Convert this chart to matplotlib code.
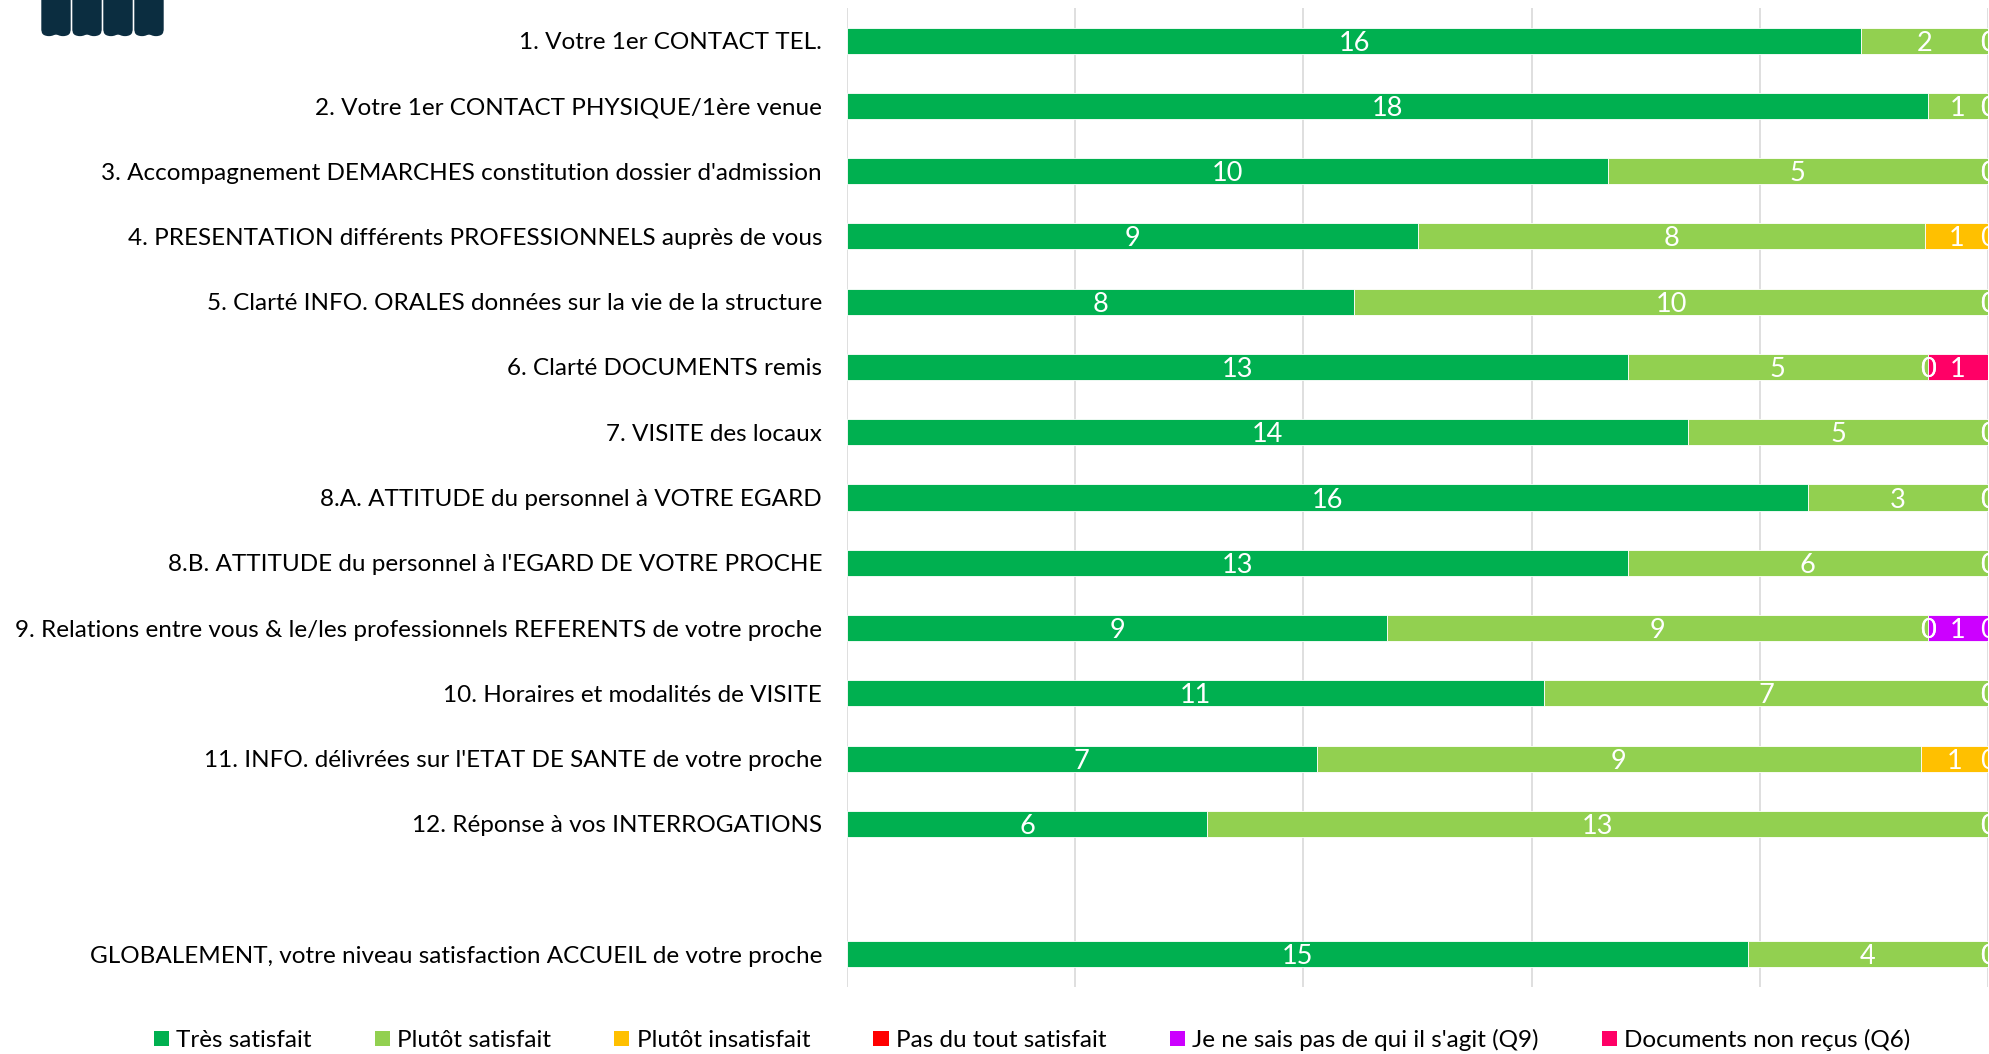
import numpy as np
import matplotlib
matplotlib.use("Agg")
import matplotlib.pyplot as plt
from matplotlib.patches import FancyBboxPatch, Circle

plt.rcParams['font.family'] = ['Lato', 'DejaVu Sans']

questions = [
    "1. Votre 1er CONTACT TEL.",
    "2. Votre 1er CONTACT PHYSIQUE/1ère venue",
    "3. Accompagnement DEMARCHES constitution dossier d'admission",
    "4. PRESENTATION différents PROFESSIONNELS auprès de vous",
    "5. Clarté INFO. ORALES données sur la vie de la structure",
    "6. Clarté DOCUMENTS remis",
    "7. VISITE des locaux",
    "8.A. ATTITUDE du personnel à VOTRE EGARD",
    "8.B. ATTITUDE du personnel à l'EGARD DE VOTRE PROCHE",
    "9. Relations entre vous & le/les professionnels REFERENTS de votre proche",
    "10. Horaires et modalités de VISITE",
    "11. INFO. délivrées sur l'ETAT DE SANTE de votre proche",
    "12. Réponse à vos INTERROGATIONS",
    "",
    "GLOBALEMENT, votre niveau satisfaction ACCUEIL de votre proche",
]

series_names = ["Très satisfait", "Plutôt satisfait", "Plutôt insatisfait",
                "Pas du tout satisfait", "Je ne sais pas de qui il s'agit (Q9)",
                "Documents non reçus (Q6)"]
colors = ["#00B050", "#92D050", "#FFC000", "#FF0000", "#CC00FF", "#FF0066"]

nan = np.nan
tres_satisfait = [16, 18, 10, 9, 8, 13, 14, 16, 13, 9, 11, 7, 6, nan, 15]
plutot_satisfait = [2, 1, 5, 8, 10, 5, 5, 3, 6, 9, 7, 9, 13, nan, 4]
plutot_insatisfait = [0, 0, 0, 1, 0, 0, 0, 0, 0, 0, 0, 1, 0, nan, 0]
pas_du_tout = [0, 0, 0, 0, 0, 0, 0, 0, 0, 0, 0, 0, 0, nan, 0]
ne_sais_pas = [nan, nan, nan, nan, nan, nan, nan, nan, nan, 1, nan, nan, nan, nan, nan]
docs_non_recus = [nan, nan, nan, nan, nan, 1, nan, nan, nan, 0, nan, nan, nan, nan, nan]

data = np.array([tres_satisfait, plutot_satisfait, plutot_insatisfait,
                 pas_du_tout, ne_sais_pas, docs_non_recus], dtype=float)

W, H = 1989, 1054
fig = plt.figure(figsize=(W / 100, H / 100), dpi=100)
ax = fig.add_axes([847 / W, 1 - 987 / H, (1988 - 847) / W, (987 - 8) / H])

totals = np.nansum(data, axis=0)
totals[totals == 0] = 1
pct = np.nan_to_num(data) / totals * 100
y = np.arange(len(questions))
left = np.zeros(len(questions))

for i, name in enumerate(series_names):
    keep = pct[i] > 0
    ax.barh(y[keep], pct[i][keep], left=left[keep], height=0.4, color=colors[i],
            edgecolor='white', linewidth=0.6, zorder=2)
    # empty handle for the legend
    ax.barh([0], [0], color=colors[i], label=name)
    for j in range(len(questions)):
        if not np.isnan(data[i, j]):
            ax.text(left[j] + pct[i, j] / 2, y[j], "%d" % data[i, j],
                    ha='center', va='center_baseline', color='white', fontsize=19.5,
                    zorder=3, clip_on=False)
    left = left + pct[i]

ax.set_xlim(0, 100)
ax.set_ylim(len(questions) - 0.5, -0.5)
ax.set_xticks(np.arange(0, 101, 20))
ax.set_xticklabels([])
ax.tick_params(axis='x', length=0)
ax.tick_params(axis='y', length=0, pad=18, labelsize=17.5)
ax.set_yticks(y)
ax.set_yticklabels(questions)
ax.grid(axis='x', color='#D9D9D9', linewidth=1.2, zorder=0)
ax.set_axisbelow(True)
for s in ax.spines.values():
    s.set_visible(False)

fig.legend(loc='center', bbox_to_anchor=(1032 / W, 1 - 1040 / H), ncol=6,
           frameon=False, fontsize=17.5, handlelength=0.62, handleheight=0.62,
           handletextpad=0.3, columnspacing=2.6, borderaxespad=0)

# logo in the top left corner (partly cut)
logo_col = '#0B2D40'
for x0 in [42, 73, 104, 135]:
    fig.patches.append(FancyBboxPatch((x0 / W, 1 - 34 / H), 28 / W, 40 / H,
                                      boxstyle="round,pad=0,rounding_size=0.004",
                                      transform=fig.transFigure, color=logo_col))
    for dx in [7, 21]:
        fig.patches.append(Circle(((x0 + dx) / W, 1 - 32 / H), 6.5 / W,
                                  transform=fig.transFigure, color=logo_col))

fig.savefig("out.png", dpi=100)
